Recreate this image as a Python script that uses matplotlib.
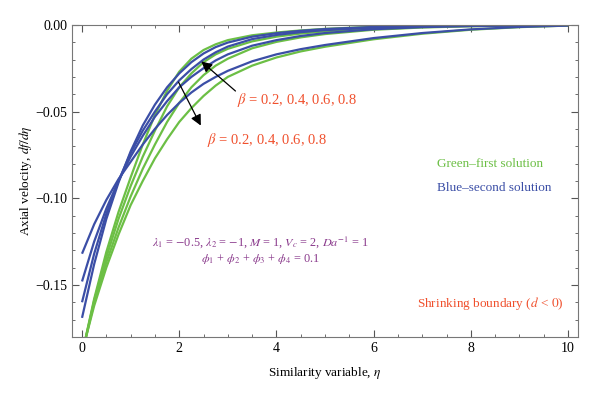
import matplotlib
matplotlib.use('Agg')
import matplotlib.pyplot as plt
from matplotlib.ticker import MultipleLocator, FuncFormatter

plt.rcParams['font.family'] = ['Liberation Serif', 'DejaVu Serif']
plt.rcParams['mathtext.fontset'] = 'stix'

# similarity variable grid
eta = [0, 0.25, 0.5, 0.75, 1, 1.25, 1.5, 1.75, 2, 2.25, 2.5, 2.75, 3,
       3.5, 4, 4.5, 5, 6, 7, 8, 9, 10]

# first solution (green)
green_1 = [-0.190, -0.158, -0.131, -0.108, -0.088, -0.069, -0.052, -0.038, -0.027,
           -0.0195, -0.0145, -0.0112, -0.0088,
           -0.0060, -0.0044, -0.0032, -0.0023, -0.0011, -0.0005, -0.0002, -0.0001, 0.0]
green_2 = [-0.190, -0.159, -0.134, -0.112, -0.093, -0.076, -0.061, -0.047, -0.036,
           -0.028, -0.0215, -0.0170, -0.0138,
           -0.0095, -0.0068, -0.0050, -0.0037, -0.0019, -0.0010, -0.0005, -0.0002, -0.0001]
green_3 = [-0.190, -0.160, -0.137, -0.117, -0.099, -0.083, -0.069, -0.056, -0.045,
           -0.036, -0.029, -0.0235, -0.0195,
           -0.0135, -0.0098, -0.0072, -0.0053, -0.0028, -0.0015, -0.0008, -0.0004, -0.0002]
green_4 = [-0.189, -0.162, -0.140, -0.121, -0.104, -0.090, -0.077, -0.066, -0.056,
           -0.048, -0.041, -0.035, -0.030,
           -0.0235, -0.0188, -0.0153, -0.0126, -0.0083, -0.0051, -0.0028, -0.0013, -0.0004]

# second solution (blue)
blue_1 = [-0.169, -0.138, -0.112, -0.091, -0.073, -0.058, -0.046, -0.036, -0.028,
          -0.0215, -0.0165, -0.0128, -0.0102,
          -0.0068, -0.0048, -0.0034, -0.0024, -0.0012, -0.0006, -0.0003, -0.0001, 0.0]
blue_2 = [-0.160, -0.132, -0.109, -0.090, -0.074, -0.061, -0.050, -0.040, -0.032,
          -0.0255, -0.0200, -0.0158, -0.0125,
          -0.0082, -0.0058, -0.0042, -0.0030, -0.0016, -0.0008, -0.0004, -0.0002, -0.0001]
blue_3 = [-0.148, -0.125, -0.106, -0.090, -0.076, -0.064, -0.053, -0.044, -0.036,
          -0.030, -0.025, -0.0205, -0.0170,
          -0.0120, -0.0088, -0.0064, -0.0047, -0.0025, -0.0013, -0.0007, -0.0003, -0.0001]
blue_4 = [-0.132, -0.115, -0.101, -0.089, -0.079, -0.069, -0.060, -0.052, -0.045,
          -0.039, -0.034, -0.030, -0.0265,
          -0.0210, -0.0170, -0.0140, -0.0116, -0.0076, -0.0047, -0.0026, -0.0012, -0.0004]

greens = [green_1, green_2, green_3, green_4]
blues = [blue_1, blue_2, blue_3, blue_4]

GREEN = '#6cbf45'
BLUE = '#3b4ea6'
RED = '#f0502d'
PURPLE = '#8a3a8c'

fig = plt.figure(figsize=(6, 3.95), dpi=100)
ax = fig.add_axes([0.1205, 0.147, 0.8425, 0.79])

for g in greens:
    ax.plot(eta, g, color=GREEN, lw=1.6, solid_capstyle='butt')
for b in blues:
    ax.plot(eta, b, color=BLUE, lw=1.6, solid_capstyle='butt')

ax.set_xlim(-0.2, 10.2)
ax.set_ylim(-0.18, 0.0)

ax.xaxis.set_major_locator(MultipleLocator(2))
ax.xaxis.set_minor_locator(MultipleLocator(0.5))
ax.yaxis.set_major_locator(MultipleLocator(0.05))
ax.yaxis.set_minor_locator(MultipleLocator(0.01))
ax.yaxis.set_major_formatter(FuncFormatter(lambda v, p: ('%.2f' % v).replace('-', '\u2212')))

ax.tick_params(which='both', direction='in', top=True, right=True, colors='#555555',
               labelcolor='black', labelsize=10)
ax.tick_params(which='major', length=5, width=0.8)
ax.tick_params(which='minor', length=2.5, width=0.6)
for s in ax.spines.values():
    s.set_color('#777777')
    s.set_linewidth(0.8)

ax.set_xlabel(r'Similarity variable, $\eta$', fontsize=9.5, labelpad=7)
ax.set_ylabel(r'Axial velocity, $df/d\eta$', fontsize=9.5, labelpad=1)

# arrows and labels
arw = dict(arrowstyle='-|>', color='black', lw=0.9, mutation_scale=16)
ax.annotate('', xy=(2.41, -0.0200), xytext=(3.2, -0.0392), arrowprops=arw)
ax.annotate('', xy=(2.47, -0.0595), xytext=(1.96, -0.0316), arrowprops=arw)

ax.text(3.19, -0.0431, r'$\beta$ = 0.2, 0.4, 0.6, 0.8', color=RED, fontsize=10.5,
        va='center', ha='left')
ax.text(2.57, -0.0665, r'$\beta$ = 0.2, 0.4, 0.6, 0.8', color=RED, fontsize=10.5,
        va='center', ha='left')

ax.text(7.3, -0.0805, 'Green\u2013first solution', color=GREEN, fontsize=9.5,
        va='center', ha='left')
ax.text(7.3, -0.0943, 'Blue\u2013second solution', color=BLUE, fontsize=9.5,
        va='center', ha='left')

ax.text(3.67, -0.1250,
        r'$\lambda_{\mathit{1}}$ = $-$0.5, $\lambda_{\mathit{2}}$ = $-$1, $M$ = 1, $V_c$ = 2, $Da^{-1}$ = 1',
        color=PURPLE, fontsize=8.8, va='center', ha='center')
ax.text(3.67, -0.1350,
        r'$\phi_{\mathit{1}}$ + $\phi_{\mathit{2}}$ + $\phi_{\mathit{3}}$ + $\phi_{\mathit{4}}$ = 0.1',
        color=PURPLE, fontsize=8.8, va='center', ha='center')

ax.text(9.9, -0.161, r'Shrinking boundary ($d$ < $0$)', color=RED, fontsize=9.5,
        va='center', ha='right')

fig.savefig('out.png', dpi=100)
